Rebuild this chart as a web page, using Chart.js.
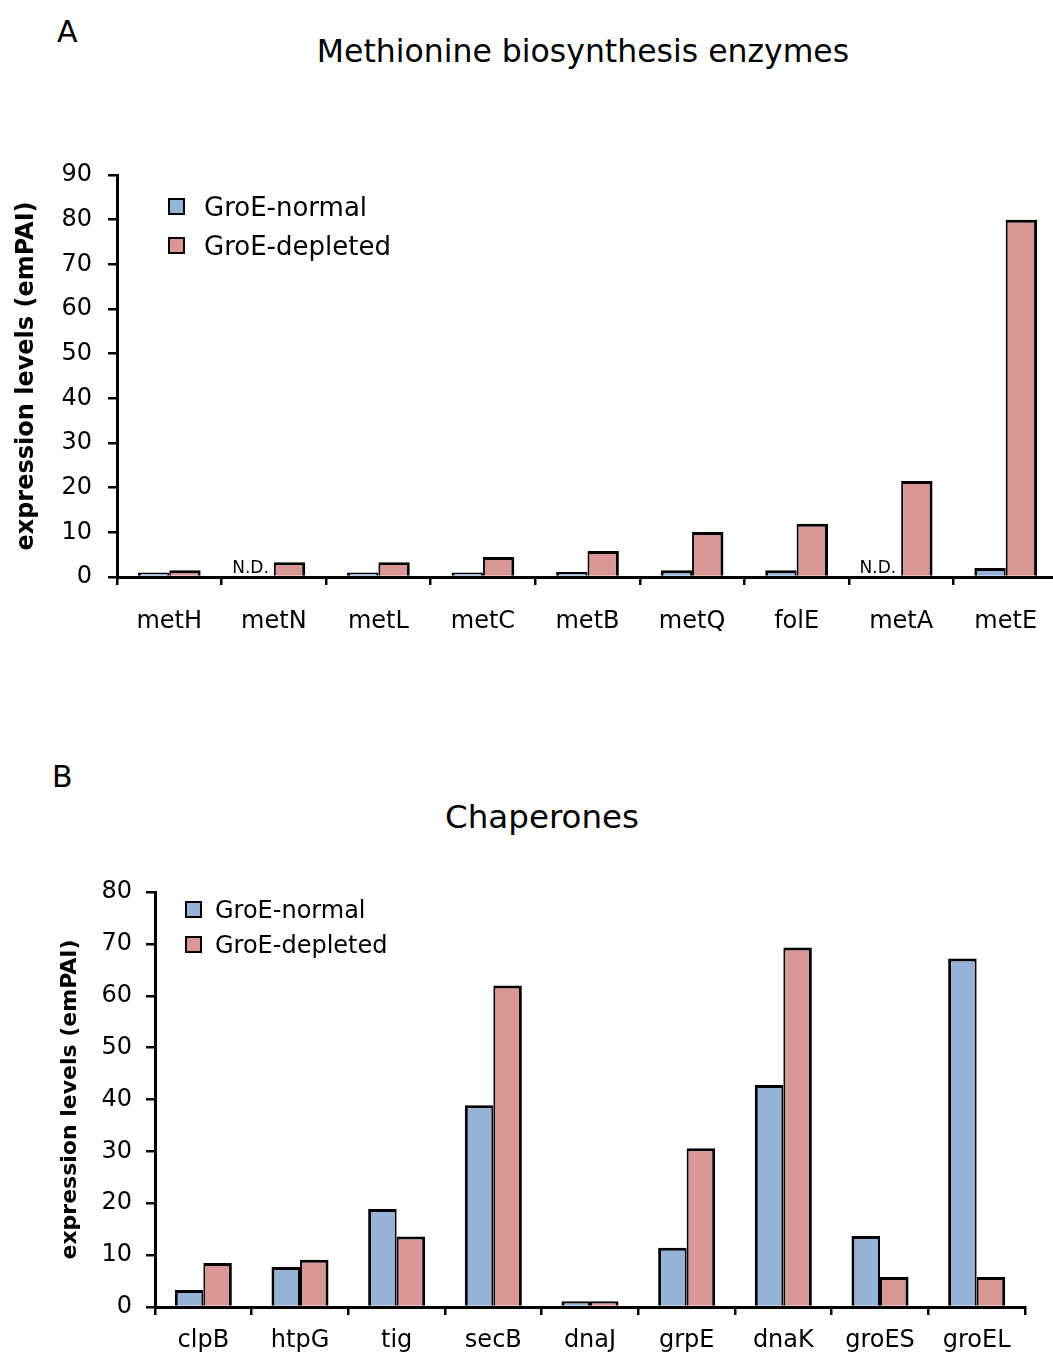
<!DOCTYPE html>
<html>
<head>
<meta charset="utf-8">
<script src="https://cdn.jsdelivr.net/npm/chart.js@4.4.1/dist/chart.umd.min.js"></script>
<style>
  html, body { margin: 0; padding: 0; background: #fff; overflow: hidden; width: 1053px; height: 1358px; }
  body { position: relative; font-family: "DejaVu Sans", sans-serif; color: #000; }
  canvas { position: absolute; left: 0; }
  .txt { position: absolute; white-space: nowrap; line-height: 1; }
  .center { transform: translateX(-50%); }
  .legend { position: absolute; }
  .legend div { display: flex; align-items: center; white-space: nowrap; line-height: 1; }
  .legend i { display: inline-block; box-sizing: border-box; border: 2.5px solid #000; }
</style>
</head>
<body>
<div class="txt" style="left:57px;top:17px;font-size:30px">A</div>
<div class="txt center" style="left:583px;top:36px;font-size:31.5px">Methionine biosynthesis enzymes</div>
<div class="txt" style="left:52px;top:762px;font-size:30px">B</div>
<div class="txt center" style="left:542px;top:801px;font-size:32.5px">Chaperones</div>

<canvas id="chartA" width="1060" height="680" style="top:0"></canvas>
<canvas id="chartB" width="1053" height="678" style="top:680px"></canvas>
<div class="legend" id="legendA"></div>
<div class="legend" id="legendB"></div>

<script>
const FONT = '"DejaVu Sans", sans-serif';
const SERIES = ['GroE-normal', 'GroE-depleted'];
const COLORS = ['#95b3d7', '#d99694'];
// trait commun de la paire partagé entre les deux barres
const BORDERS = [
  { top: 3, left: 3, right: 2, bottom: 0 },
  { top: 3, left: 2, right: 3, bottom: 0 },
];

// A : enzymes de biosynthèse de la méthionine (null = N.D.)
const LABELS_A   = ['metH', 'metN', 'metL', 'metC', 'metB', 'metQ', 'folE', 'metA', 'metE'];
const NORMAL_A   = [1.0, null, 1.0, 1.0, 1.1, 1.5, 1.5, null, 2.0];
const DEPLETED_A = [1.5, 3.3, 3.3, 4.5, 5.8, 10.1, 11.9, 21.5, 80.0];
const TICKS_A    = [0, 10, 20, 30, 40, 50, 60, 70, 80, 90];

// B : chaperones
const LABELS_B   = ['clpB', 'htpG', 'tig', 'secB', 'dnaJ', 'grpE', 'dnaK', 'groES', 'groEL'];
const NORMAL_B   = [3.3, 7.7, 18.9, 38.9, 1.1, 11.4, 42.8, 13.7, 67.2];
const DEPLETED_B = [8.5, 9.1, 13.6, 62.0, 1.1, 30.6, 69.3, 5.8, 5.8];
const TICKS_B    = [0, 10, 20, 30, 40, 50, 60, 70, 80];

/** Écrit "N.D." à la place des barres absentes de la première série. */
const ndPlugin = {
  id: 'nd',
  afterDatasetsDraw(chart) {
    const { ctx, scales: { x, y } } = chart;
    const y0 = y.getPixelForValue(0);
    ctx.save();
    ctx.font = '17px ' + FONT;
    ctx.fillStyle = '#000';
    ctx.textAlign = 'right';
    ctx.textBaseline = 'alphabetic';
    chart.data.datasets[0].data.forEach((v, i) => {
      if (v === null) ctx.fillText('N.D.', x.getPixelForValue(i) - 5, y0 - 4);
    });
    ctx.restore();
  },
};

function buildChart(id, labels, normal, depleted, ticks, g) {
  return new Chart(document.getElementById(id), {
    type: 'bar',
    data: {
      labels,
      datasets: [normal, depleted].map((d, i) => ({
        label: SERIES[i],
        data: d,
        backgroundColor: COLORS[i],
        borderColor: '#000',
        borderWidth: BORDERS[i],
        borderSkipped: false,
        inflateAmount: 0,
        barPercentage: 1,
        categoryPercentage: g.cat,
      })),
    },
    options: {
      responsive: false, animation: false, devicePixelRatio: 1,
      layout: { padding: { top: g.top, right: g.right, bottom: 0, left: 0 } },
      plugins: { legend: { display: false }, tooltip: { enabled: false } },
      scales: {
        x: {
          offset: true,
          grid: { offset: true, drawOnChartArea: false, color: '#000', lineWidth: 2.5, tickLength: 8 },
          border: { color: '#000', width: 3, z: 1 },
          ticks: { color: '#000', font: { family: FONT, size: 24 }, padding: g.xpad, maxRotation: 0, autoSkip: false },
          afterFit: s => { s.height = g.xh; },
        },
        y: {
          min: ticks[0], max: ticks[ticks.length - 1],
          afterBuildTicks: s => { s.ticks = ticks.map(v => ({ value: v })); },
          grid: { drawOnChartArea: false, color: '#000', lineWidth: 2.5, tickLength: 9 },
          border: { color: '#000', width: 3 },
          ticks: { color: '#000', font: { family: FONT, size: 24 }, padding: g.ypad },
          title: {
            display: true, text: 'expression levels (emPAI)', color: '#000',
            font: { family: FONT, size: g.tsize, weight: 'bold' },
            padding: { top: g.tpad, bottom: 0 },
          },
          afterFit: s => { s.width = g.yw; },
        },
      },
    },
    plugins: [ndPlugin],
  });
}

function buildLegend(id, pos) {
  const el = document.getElementById(id);
  el.style.left = pos.left + 'px';
  el.style.top = pos.top + 'px';
  el.innerHTML = SERIES.map((s, i) =>
    `<div style="height:${pos.row}px;font-size:${pos.size}px">` +
    `<i style="width:${pos.box}px;height:${pos.box}px;background:${COLORS[i]};margin-right:${pos.gap}px"></i>${s}</div>`
  ).join('');
}

buildChart('chartA', LABELS_A, NORMAL_A, DEPLETED_A, TICKS_A,
  { cat: 0.6, top: 175, right: 2, xh: 103, yw: 117, xpad: 22, ypad: 16, tsize: 24, tpad: 12 });
buildChart('chartB', LABELS_B, NORMAL_B, DEPLETED_B, TICKS_B,
  { cat: 0.59, top: 212, right: 28, xh: 51, yw: 155, xpad: 11, ypad: 14, tsize: 22, tpad: 57 });

buildLegend('legendA', { left: 168, top: 187, row: 39, size: 26, box: 17, gap: 19 });
buildLegend('legendB', { left: 185, top: 892, row: 35, size: 24, box: 17, gap: 13 });
</script>
</body>
</html>
